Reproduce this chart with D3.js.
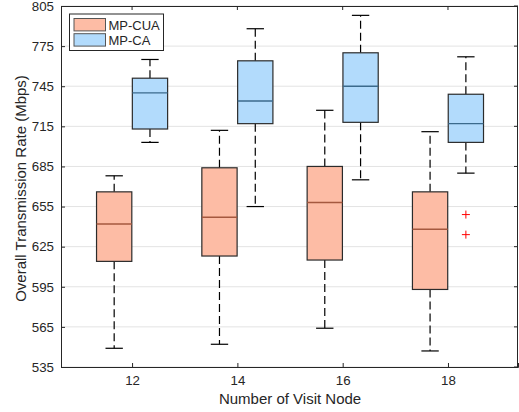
<!DOCTYPE html>
<html>
<head>
<meta charset="utf-8">
<script src="https://cdn.jsdelivr.net/npm/d3@7"></script>
<style>
  body { margin: 0; background: #fff; }
  text { font-family: "Liberation Sans", Arial, Helvetica, sans-serif; fill: #262626; }
</style>
</head>
<body>
<div id="chart"></div>
<script>
// number of visit nodes (x categories)
const nodes = [12, 14, 16, 18];
// box stats: [lower whisker, q1, median, q3, upper whisker]
const cuaStats = [
  [549, 614, 642, 666, 678],
  [552, 618, 647, 684, 712],
  [564, 615, 658, 685, 727],
  [547, 593, 638, 666, 711]
];
const caStats = [
  [703, 713, 740, 751, 765],
  [655, 717, 734, 764, 788],
  [675, 718, 745, 770, 798],
  [680, 703, 717, 739, 767]
];
// outliers for MP-CUA (per node)
const cuaOutliers = [[], [], [], [649, 634]];
const yTicks = [535, 565, 595, 625, 655, 685, 715, 745, 775, 805];
const seriesNames = ["MP-CUA", "MP-CA"];

let width = 519, height = 412;
let margin = { top: 6, right: 1, bottom: 45, left: 61 };
let w = width - margin.left - margin.right,
  h = height - margin.top - margin.bottom;

let x = d3.scaleLinear().domain([10.65, 19.33]).range([0, w]);
let y = d3.scaleLinear().domain([535, 805]).range([h, 0]);

let fills = ["#fdbca5", "#b2dbfc"];
let medColors = ["#a5583f", "#3b6a8c"];
let offsets = [-0.34, 0.34];
let boxW = 0.67, capW = 0.33;
let axisColor = "#262626";

const svg = d3.select("#chart").append("svg")
  .attr("width", width)
  .attr("height", height);

const g = svg.append("g")
  .attr("transform", "translate(" + margin.left + "," + margin.top + ")");

// grid lines
g.selectAll(".grid")
  .data(yTicks)
  .enter()
  .append("line")
  .attr("x1", 0).attr("x2", w)
  .attr("y1", d => y(d)).attr("y2", d => y(d))
  .attr("stroke", "#e3e3e3")
  .attr("stroke-width", 1);

let drawSeries = function (stats, s) {
  const grp = g.append("g");
  stats.forEach(function (d, i) {
    let cx = nodes[i] + offsets[s];
    // whiskers (dashed), drawn from the box outwards
    grp.append("line")
      .attr("x1", x(cx)).attr("x2", x(cx))
      .attr("y1", y(d[3])).attr("y2", y(d[4]))
      .attr("stroke", "#000").attr("stroke-width", 1.2)
      .attr("stroke-dasharray", "8,4");
    grp.append("line")
      .attr("x1", x(cx)).attr("x2", x(cx))
      .attr("y1", y(d[1])).attr("y2", y(d[0]))
      .attr("stroke", "#000").attr("stroke-width", 1.2)
      .attr("stroke-dasharray", "8,4");
    // caps
    [d[0], d[4]].forEach(function (v) {
      grp.append("line")
        .attr("x1", x(cx - capW / 2)).attr("x2", x(cx + capW / 2))
        .attr("y1", y(v)).attr("y2", y(v))
        .attr("stroke", "#000").attr("stroke-width", 1.2);
    });
    // box
    grp.append("rect")
      .attr("x", x(cx - boxW / 2))
      .attr("y", y(d[3]))
      .attr("width", x(cx + boxW / 2) - x(cx - boxW / 2))
      .attr("height", y(d[1]) - y(d[3]))
      .attr("fill", fills[s])
      .attr("stroke", "#2b2b2b")
      .attr("stroke-width", 1.2);
    // median
    grp.append("line")
      .attr("x1", x(cx - boxW / 2)).attr("x2", x(cx + boxW / 2))
      .attr("y1", y(d[2])).attr("y2", y(d[2]))
      .attr("stroke", medColors[s]).attr("stroke-width", 1.4);
  });
};
drawSeries(cuaStats, 0);
drawSeries(caStats, 1);

// outliers (drawn at the right-hand group slot, as in the original figure)
cuaOutliers.forEach(function (arr, i) {
  arr.forEach(function (v) {
    let px = x(nodes[i] + offsets[1]), py = y(v);
    g.append("path")
      .attr("d", "M" + (px - 4) + "," + py + "H" + (px + 4) + "M" + px + "," + (py - 4) + "V" + (py + 4))
      .attr("stroke", "#ff0000").attr("stroke-width", 1);
  });
});

// axes
let xAxis = d3.axisBottom(x).tickValues(nodes).tickSize(-4).tickPadding(9);
let yAxis = d3.axisLeft(y).tickValues(yTicks).tickSize(-4).tickPadding(7);

const gx = g.append("g")
  .attr("transform", "translate(0," + h + ")")
  .call(xAxis);
const gy = g.append("g").call(yAxis);

[gx, gy].forEach(function (a) {
  a.select(".domain").attr("stroke", axisColor);
  a.selectAll(".tick line").attr("stroke", axisColor);
  a.selectAll(".tick text")
    .style("font-size", "13.3px")
    .style("fill", axisColor);
});

// top and right box lines with inward ticks
g.append("line")
  .attr("x1", 0).attr("x2", w).attr("y1", 0.5).attr("y2", 0.5)
  .attr("stroke", axisColor);
g.append("line")
  .attr("x1", w - 0.5).attr("x2", w - 0.5).attr("y1", 0).attr("y2", h)
  .attr("stroke", axisColor);
g.selectAll(".ttick")
  .data(nodes)
  .enter()
  .append("line")
  .attr("x1", d => x(d)).attr("x2", d => x(d))
  .attr("y1", 0).attr("y2", 4)
  .attr("stroke", axisColor);
g.selectAll(".rtick")
  .data(yTicks)
  .enter()
  .append("line")
  .attr("x1", w - 4).attr("x2", w)
  .attr("y1", d => y(d)).attr("y2", d => y(d))
  .attr("stroke", axisColor);

// axis labels
svg.append("text")
  .attr("x", margin.left + x(15))
  .attr("y", 404)
  .style("text-anchor", "middle")
  .style("font-size", "15px")
  .text("Number of Visit Node");

svg.append("text")
  .attr("transform", "translate(26," + (margin.top + h / 2 + 2) + ") rotate(-90)")
  .style("text-anchor", "middle")
  .style("font-size", "15px")
  .text("Overall Transmission Rate (Mbps)");

// legend
const legend = svg.append("g")
  .attr("transform", "translate(69.5,14)");
legend.append("rect")
  .attr("width", 94).attr("height", 36.5)
  .attr("fill", "#fff")
  .attr("stroke", axisColor);
legend.selectAll("rect.sw")
  .data(seriesNames)
  .enter()
  .append("rect")
  .attr("class", "sw")
  .attr("x", 4.5)
  .attr("y", (_, i) => 4.5 + i * 15.2)
  .attr("width", 31.5).attr("height", 12.4)
  .attr("fill", (_, i) => fills[i])
  .attr("stroke", "#555");
legend.selectAll("text")
  .data(seriesNames)
  .enter()
  .append("text")
  .attr("x", 39)
  .attr("y", (_, i) => 15.5 + i * 15.5)
  .style("font-size", "13px")
  .text(d => d);
</script>
</body>
</html>
